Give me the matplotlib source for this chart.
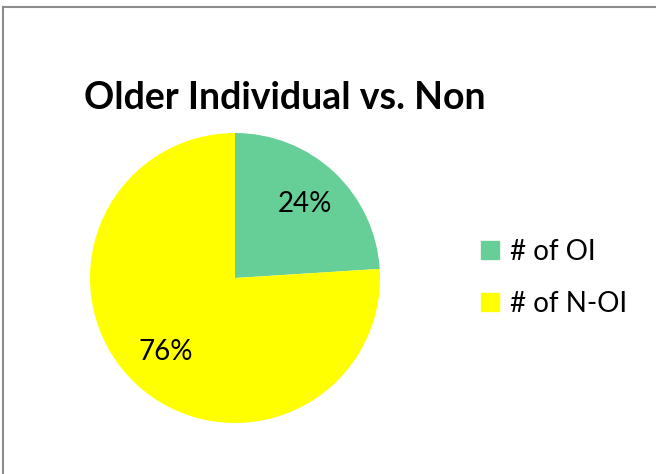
import matplotlib.pyplot as plt
from matplotlib.lines import Line2D

plt.rcParams['font.family'] = ['Lato', 'DejaVu Sans']

labels = ['# of OI', '# of N-OI']
values = [24, 76]
colors = ['#66CF97', '#FFFF00']
title = 'Older Individual vs. Non'

fig = plt.figure(figsize=(6.56, 4.74), dpi=100)

# pie placed in pixel terms: centre ~(235, 278), radius ~145
ax = fig.add_axes([90 / 656, (474 - 423) / 474, 290 / 656, 290 / 474])
wedges, texts, autotexts = ax.pie(values, colors=colors, startangle=90, counterclock=False,
                                  autopct='%1.0f%%', pctdistance=0.7,
                                  wedgeprops=dict(linewidth=0))
for t in autotexts:
    t.set_fontsize(20)
    t.set_color('black')
ax.set_xlim(-1, 1)
ax.set_ylim(-1, 1)
ax.set_aspect('equal')

fig.text(285 / 656, 1 - 98 / 474, title, ha='center', va='center',
         fontsize=27, fontweight='bold')

handles = [Line2D([], [], marker='s', linestyle='', markersize=13, color=c) for c in colors]
fig.legend(handles, labels, loc='center left', bbox_to_anchor=(457 / 656, 1 - 278 / 474),
           frameon=False, fontsize=20, handlelength=0.6, handletextpad=0.4,
           labelspacing=0.95)

# chart border (only left and top visible in the crop)
fig.add_artist(Line2D([3 / 656, 3 / 656], [0, 1 - 7 / 474], color='#8c8c8c', lw=1.5))
fig.add_artist(Line2D([3 / 656, 1], [1 - 7 / 474, 1 - 7 / 474], color='#8c8c8c', lw=1.5))

fig.savefig('out.png', dpi=100)
